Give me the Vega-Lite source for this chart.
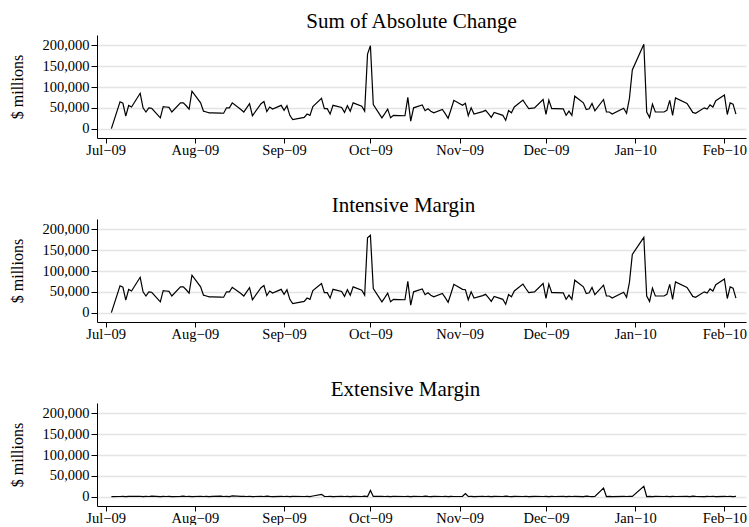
{
  "$schema": "https://vega.github.io/schema/vega-lite/v6.json",
  "background": "white",
  "padding": {"left": 9, "top": 11, "right": 0, "bottom": 0},
  "spacing": 38,
  "config": {
    "font": "Liberation Serif",
    "view": {"stroke": null},
    "title": {"font": "Liberation Serif", "fontSize": 21, "fontWeight": "normal", "color": "black", "offset": 3},
    "axis": {
      "labelFont": "Liberation Serif",
      "titleFont": "Liberation Serif",
      "labelColor": "black",
      "titleColor": "black",
      "domainColor": "black",
      "tickColor": "black",
      "labelFontSize": 14.5,
      "titleFontSize": 16,
      "titleFontWeight": "normal"
    }
  },
  "data": {
    "values": [
      {"date": "2009-07-03", "abs": 0, "int": 0, "ext": 0},
      {"date": "2009-07-06", "abs": 64500, "int": 64500, "ext": 300},
      {"date": "2009-07-07", "abs": 61000, "int": 61000, "ext": 800},
      {"date": "2009-07-08", "abs": 30000, "int": 30000, "ext": 200},
      {"date": "2009-07-09", "abs": 55600, "int": 55600, "ext": 600},
      {"date": "2009-07-10", "abs": 52000, "int": 52000, "ext": 400},
      {"date": "2009-07-13", "abs": 85000, "int": 85000, "ext": 900},
      {"date": "2009-07-14", "abs": 50000, "int": 50000, "ext": 100},
      {"date": "2009-07-15", "abs": 40000, "int": 40000, "ext": 700},
      {"date": "2009-07-16", "abs": 50000, "int": 50000, "ext": 300},
      {"date": "2009-07-17", "abs": 49000, "int": 49000, "ext": 1000},
      {"date": "2009-07-20", "abs": 26000, "int": 26000, "ext": 200},
      {"date": "2009-07-21", "abs": 53000, "int": 53000, "ext": 600},
      {"date": "2009-07-22", "abs": 52000, "int": 52000, "ext": 300},
      {"date": "2009-07-23", "abs": 51000, "int": 51000, "ext": 800},
      {"date": "2009-07-24", "abs": 40000, "int": 40000, "ext": 200},
      {"date": "2009-07-27", "abs": 62000, "int": 62000, "ext": 500},
      {"date": "2009-07-28", "abs": 62000, "int": 62000, "ext": 1100},
      {"date": "2009-07-29", "abs": 55000, "int": 55000, "ext": 300},
      {"date": "2009-07-30", "abs": 47000, "int": 47000, "ext": 600},
      {"date": "2009-07-31", "abs": 90000, "int": 90000, "ext": 200},
      {"date": "2009-08-03", "abs": 62000, "int": 62000, "ext": 900},
      {"date": "2009-08-04", "abs": 42000, "int": 42000, "ext": 300},
      {"date": "2009-08-05", "abs": 40000, "int": 40000, "ext": 700},
      {"date": "2009-08-06", "abs": 38000, "int": 38000, "ext": 200},
      {"date": "2009-08-07", "abs": 38000, "int": 38000, "ext": 500},
      {"date": "2009-08-10", "abs": 37500, "int": 37500, "ext": 1000},
      {"date": "2009-08-11", "abs": 37000, "int": 37000, "ext": 300},
      {"date": "2009-08-12", "abs": 50000, "int": 50000, "ext": 600},
      {"date": "2009-08-13", "abs": 50000, "int": 50000, "ext": 200},
      {"date": "2009-08-14", "abs": 62000, "int": 61000, "ext": 1800},
      {"date": "2009-08-17", "abs": 46000, "int": 46000, "ext": 400},
      {"date": "2009-08-18", "abs": 40000, "int": 40000, "ext": 800},
      {"date": "2009-08-19", "abs": 50000, "int": 50000, "ext": 300},
      {"date": "2009-08-20", "abs": 60000, "int": 60000, "ext": 900},
      {"date": "2009-08-21", "abs": 31000, "int": 31000, "ext": 200},
      {"date": "2009-08-24", "abs": 60000, "int": 60000, "ext": 600},
      {"date": "2009-08-25", "abs": 65000, "int": 65000, "ext": 300},
      {"date": "2009-08-26", "abs": 41000, "int": 41000, "ext": 1000},
      {"date": "2009-08-27", "abs": 52000, "int": 52000, "ext": 400},
      {"date": "2009-08-28", "abs": 47000, "int": 47000, "ext": 200},
      {"date": "2009-08-31", "abs": 56000, "int": 56000, "ext": 700},
      {"date": "2009-09-01", "abs": 44000, "int": 44000, "ext": 300},
      {"date": "2009-09-02", "abs": 55000, "int": 55000, "ext": 900},
      {"date": "2009-09-03", "abs": 32000, "int": 32000, "ext": 200},
      {"date": "2009-09-04", "abs": 22000, "int": 22000, "ext": 500},
      {"date": "2009-09-08", "abs": 27000, "int": 27000, "ext": 300},
      {"date": "2009-09-09", "abs": 35000, "int": 35000, "ext": 800},
      {"date": "2009-09-10", "abs": 32000, "int": 32000, "ext": 200},
      {"date": "2009-09-11", "abs": 53000, "int": 53000, "ext": 1500},
      {"date": "2009-09-14", "abs": 72600, "int": 70000, "ext": 5500},
      {"date": "2009-09-15", "abs": 48000, "int": 48000, "ext": 800},
      {"date": "2009-09-16", "abs": 48000, "int": 48000, "ext": 300},
      {"date": "2009-09-17", "abs": 35000, "int": 35000, "ext": 600},
      {"date": "2009-09-18", "abs": 56000, "int": 56000, "ext": 200},
      {"date": "2009-09-21", "abs": 51000, "int": 51000, "ext": 900},
      {"date": "2009-09-22", "abs": 39000, "int": 39000, "ext": 300},
      {"date": "2009-09-23", "abs": 55000, "int": 55000, "ext": 700},
      {"date": "2009-09-24", "abs": 42000, "int": 42000, "ext": 200},
      {"date": "2009-09-25", "abs": 62000, "int": 62000, "ext": 600},
      {"date": "2009-09-28", "abs": 54000, "int": 54000, "ext": 300},
      {"date": "2009-09-29", "abs": 42000, "int": 42000, "ext": 1000},
      {"date": "2009-09-30", "abs": 179000, "int": 180000, "ext": 200},
      {"date": "2009-10-01", "abs": 199000, "int": 186000, "ext": 15000},
      {"date": "2009-10-02", "abs": 58000, "int": 58000, "ext": 400},
      {"date": "2009-10-05", "abs": 26000, "int": 26000, "ext": 800},
      {"date": "2009-10-06", "abs": 36000, "int": 36000, "ext": 300},
      {"date": "2009-10-07", "abs": 47000, "int": 47000, "ext": 600},
      {"date": "2009-10-08", "abs": 26000, "int": 26000, "ext": 200},
      {"date": "2009-10-09", "abs": 32000, "int": 32000, "ext": 900},
      {"date": "2009-10-13", "abs": 31000, "int": 31000, "ext": 300},
      {"date": "2009-10-14", "abs": 75000, "int": 75000, "ext": 700},
      {"date": "2009-10-15", "abs": 18000, "int": 18000, "ext": 200},
      {"date": "2009-10-16", "abs": 50000, "int": 50000, "ext": 600},
      {"date": "2009-10-19", "abs": 57000, "int": 57000, "ext": 300},
      {"date": "2009-10-20", "abs": 43000, "int": 43000, "ext": 1000},
      {"date": "2009-10-21", "abs": 47600, "int": 47600, "ext": 400},
      {"date": "2009-10-22", "abs": 42000, "int": 42000, "ext": 200},
      {"date": "2009-10-23", "abs": 38000, "int": 38000, "ext": 700},
      {"date": "2009-10-26", "abs": 46000, "int": 46000, "ext": 300},
      {"date": "2009-10-27", "abs": 36000, "int": 36000, "ext": 900},
      {"date": "2009-10-28", "abs": 25000, "int": 25000, "ext": 200},
      {"date": "2009-10-29", "abs": 46000, "int": 46000, "ext": 600},
      {"date": "2009-10-30", "abs": 68000, "int": 68000, "ext": 300},
      {"date": "2009-11-02", "abs": 56000, "int": 56000, "ext": 800},
      {"date": "2009-11-03", "abs": 61000, "int": 55000, "ext": 7500},
      {"date": "2009-11-04", "abs": 31000, "int": 31000, "ext": 300},
      {"date": "2009-11-05", "abs": 50000, "int": 50000, "ext": 600},
      {"date": "2009-11-06", "abs": 35000, "int": 35000, "ext": 200},
      {"date": "2009-11-09", "abs": 41000, "int": 41000, "ext": 900},
      {"date": "2009-11-10", "abs": 44000, "int": 44000, "ext": 300},
      {"date": "2009-11-11", "abs": 36000, "int": 36000, "ext": 700},
      {"date": "2009-11-12", "abs": 27000, "int": 27000, "ext": 200},
      {"date": "2009-11-13", "abs": 39000, "int": 39000, "ext": 600},
      {"date": "2009-11-16", "abs": 32000, "int": 32000, "ext": 300},
      {"date": "2009-11-17", "abs": 20000, "int": 20000, "ext": 1000},
      {"date": "2009-11-18", "abs": 43500, "int": 43500, "ext": 400},
      {"date": "2009-11-19", "abs": 38000, "int": 38000, "ext": 200},
      {"date": "2009-11-20", "abs": 52000, "int": 52000, "ext": 700},
      {"date": "2009-11-23", "abs": 68500, "int": 68500, "ext": 300},
      {"date": "2009-11-24", "abs": 58000, "int": 58000, "ext": 900},
      {"date": "2009-11-25", "abs": 48000, "int": 48000, "ext": 200},
      {"date": "2009-11-27", "abs": 50000, "int": 50000, "ext": 600},
      {"date": "2009-11-30", "abs": 70000, "int": 70000, "ext": 300},
      {"date": "2009-12-01", "abs": 34000, "int": 34000, "ext": 800},
      {"date": "2009-12-02", "abs": 68500, "int": 68500, "ext": 200},
      {"date": "2009-12-03", "abs": 48000, "int": 48000, "ext": 600},
      {"date": "2009-12-04", "abs": 48000, "int": 48000, "ext": 300},
      {"date": "2009-12-07", "abs": 47600, "int": 47600, "ext": 900},
      {"date": "2009-12-08", "abs": 32000, "int": 32000, "ext": 200},
      {"date": "2009-12-09", "abs": 42000, "int": 42000, "ext": 700},
      {"date": "2009-12-10", "abs": 32000, "int": 32000, "ext": 300},
      {"date": "2009-12-11", "abs": 78000, "int": 78000, "ext": 600},
      {"date": "2009-12-14", "abs": 62000, "int": 62000, "ext": 200},
      {"date": "2009-12-15", "abs": 46000, "int": 46000, "ext": 1000},
      {"date": "2009-12-16", "abs": 47600, "int": 47600, "ext": 400},
      {"date": "2009-12-17", "abs": 60500, "int": 60500, "ext": 200},
      {"date": "2009-12-18", "abs": 43000, "int": 43000, "ext": 600},
      {"date": "2009-12-21", "abs": 70000, "int": 66000, "ext": 20700},
      {"date": "2009-12-22", "abs": 40000, "int": 40000, "ext": 300},
      {"date": "2009-12-23", "abs": 40000, "int": 40000, "ext": 800},
      {"date": "2009-12-24", "abs": 35000, "int": 35000, "ext": 200},
      {"date": "2009-12-28", "abs": 49000, "int": 49000, "ext": 600},
      {"date": "2009-12-29", "abs": 37000, "int": 37000, "ext": 300},
      {"date": "2009-12-30", "abs": 72600, "int": 72600, "ext": 900},
      {"date": "2009-12-31", "abs": 141000, "int": 140000, "ext": 600},
      {"date": "2010-01-04", "abs": 203000, "int": 181000, "ext": 24700},
      {"date": "2010-01-05", "abs": 40000, "int": 40000, "ext": 300},
      {"date": "2010-01-06", "abs": 27000, "int": 27000, "ext": 800},
      {"date": "2010-01-07", "abs": 59000, "int": 59000, "ext": 200},
      {"date": "2010-01-08", "abs": 40000, "int": 40000, "ext": 600},
      {"date": "2010-01-11", "abs": 40000, "int": 40000, "ext": 300},
      {"date": "2010-01-12", "abs": 44000, "int": 44000, "ext": 900},
      {"date": "2010-01-13", "abs": 68000, "int": 68000, "ext": 200},
      {"date": "2010-01-14", "abs": 32000, "int": 32000, "ext": 700},
      {"date": "2010-01-15", "abs": 74000, "int": 74000, "ext": 300},
      {"date": "2010-01-19", "abs": 60500, "int": 60500, "ext": 600},
      {"date": "2010-01-20", "abs": 50000, "int": 50000, "ext": 200},
      {"date": "2010-01-21", "abs": 39000, "int": 39000, "ext": 1000},
      {"date": "2010-01-22", "abs": 37000, "int": 37000, "ext": 400},
      {"date": "2010-01-25", "abs": 50000, "int": 50000, "ext": 200},
      {"date": "2010-01-26", "abs": 47000, "int": 47000, "ext": 700},
      {"date": "2010-01-27", "abs": 57000, "int": 57000, "ext": 300},
      {"date": "2010-01-28", "abs": 52000, "int": 52000, "ext": 900},
      {"date": "2010-01-29", "abs": 67000, "int": 67000, "ext": 200},
      {"date": "2010-02-01", "abs": 80600, "int": 80600, "ext": 600},
      {"date": "2010-02-02", "abs": 34000, "int": 34000, "ext": 300},
      {"date": "2010-02-03", "abs": 62000, "int": 62000, "ext": 800},
      {"date": "2010-02-04", "abs": 59000, "int": 59000, "ext": 200},
      {"date": "2010-02-05", "abs": 35000, "int": 35000, "ext": 500}
    ]
  },
  "vconcat": [
    {
      "title": {"text": "Sum of Absolute Change", "dx": -10},
      "width": 649,
      "height": 103,
      "mark": {"type": "line", "color": "black", "strokeWidth": 1.2},
      "encoding": {
        "x": {
          "field": "date", "type": "temporal",
          "scale": {"type": "utc", "domain": [{"year": 2009, "month": 6, "date": 28, "utc": true}, {"year": 2010, "month": 2, "date": 8, "hours": 12, "utc": true}]},
          "axis": {
            "title": null, "grid": false, "tickSize": 5, "labelPadding": 0, "labelFlush": false, "labelOverlap": false,
            "values": [
              {"year": 2009, "month": 7, "date": 1, "utc": true},
              {"year": 2009, "month": 8, "date": 1, "utc": true},
              {"year": 2009, "month": 9, "date": 1, "utc": true},
              {"year": 2009, "month": 10, "date": 1, "utc": true},
              {"year": 2009, "month": 11, "date": 1, "utc": true},
              {"year": 2009, "month": 12, "date": 1, "utc": true},
              {"year": 2010, "month": 1, "date": 1, "utc": true},
              {"year": 2010, "month": 2, "date": 1, "utc": true}
            ],
            "labelExpr": "utcFormat(datum.value, '%b') + '\u2212' + utcFormat(datum.value, '%y')"
          }
        },
        "y": {
          "field": "abs", "type": "quantitative",
          "scale": {"domain": [-22500, 225000], "nice": false, "zero": false},
          "axis": {"title": "$ millions", "values": [0, 50000, 100000, 150000, 200000], "format": ",d", "grid": true, "gridColor": "#e4e4e4", "gridWidth": 1.5, "tickSize": 6, "labelPadding": 2, "titlePadding": 16}
        }
      }
    },
    {
      "title": {"text": "Intensive Margin", "dx": -18},
      "width": 649,
      "height": 103,
      "mark": {"type": "line", "color": "black", "strokeWidth": 1.2},
      "encoding": {
        "x": {
          "field": "date", "type": "temporal",
          "scale": {"type": "utc", "domain": [{"year": 2009, "month": 6, "date": 28, "utc": true}, {"year": 2010, "month": 2, "date": 8, "hours": 12, "utc": true}]},
          "axis": {
            "title": null, "grid": false, "tickSize": 5, "labelPadding": 0, "labelFlush": false, "labelOverlap": false,
            "values": [
              {"year": 2009, "month": 7, "date": 1, "utc": true},
              {"year": 2009, "month": 8, "date": 1, "utc": true},
              {"year": 2009, "month": 9, "date": 1, "utc": true},
              {"year": 2009, "month": 10, "date": 1, "utc": true},
              {"year": 2009, "month": 11, "date": 1, "utc": true},
              {"year": 2009, "month": 12, "date": 1, "utc": true},
              {"year": 2010, "month": 1, "date": 1, "utc": true},
              {"year": 2010, "month": 2, "date": 1, "utc": true}
            ],
            "labelExpr": "utcFormat(datum.value, '%b') + '\u2212' + utcFormat(datum.value, '%y')"
          }
        },
        "y": {
          "field": "int", "type": "quantitative",
          "scale": {"domain": [-22500, 225000], "nice": false, "zero": false},
          "axis": {"title": "$ millions", "values": [0, 50000, 100000, 150000, 200000], "format": ",d", "grid": true, "gridColor": "#e4e4e4", "gridWidth": 1.5, "tickSize": 6, "labelPadding": 2, "titlePadding": 16}
        }
      }
    },
    {
      "title": {"text": "Extensive Margin", "dx": -16},
      "width": 649,
      "height": 103,
      "mark": {"type": "line", "color": "black", "strokeWidth": 1.2},
      "encoding": {
        "x": {
          "field": "date", "type": "temporal",
          "scale": {"type": "utc", "domain": [{"year": 2009, "month": 6, "date": 28, "utc": true}, {"year": 2010, "month": 2, "date": 8, "hours": 12, "utc": true}]},
          "axis": {
            "title": null, "grid": false, "tickSize": 5, "labelPadding": 0, "labelFlush": false, "labelOverlap": false,
            "values": [
              {"year": 2009, "month": 7, "date": 1, "utc": true},
              {"year": 2009, "month": 8, "date": 1, "utc": true},
              {"year": 2009, "month": 9, "date": 1, "utc": true},
              {"year": 2009, "month": 10, "date": 1, "utc": true},
              {"year": 2009, "month": 11, "date": 1, "utc": true},
              {"year": 2009, "month": 12, "date": 1, "utc": true},
              {"year": 2010, "month": 1, "date": 1, "utc": true},
              {"year": 2010, "month": 2, "date": 1, "utc": true}
            ],
            "labelExpr": "utcFormat(datum.value, '%b') + '\u2212' + utcFormat(datum.value, '%y')"
          }
        },
        "y": {
          "field": "ext", "type": "quantitative",
          "scale": {"domain": [-22500, 225000], "nice": false, "zero": false},
          "axis": {"title": "$ millions", "values": [0, 50000, 100000, 150000, 200000], "format": ",d", "grid": true, "gridColor": "#e4e4e4", "gridWidth": 1.5, "tickSize": 6, "labelPadding": 2, "titlePadding": 16}
        }
      }
    }
  ]
}
